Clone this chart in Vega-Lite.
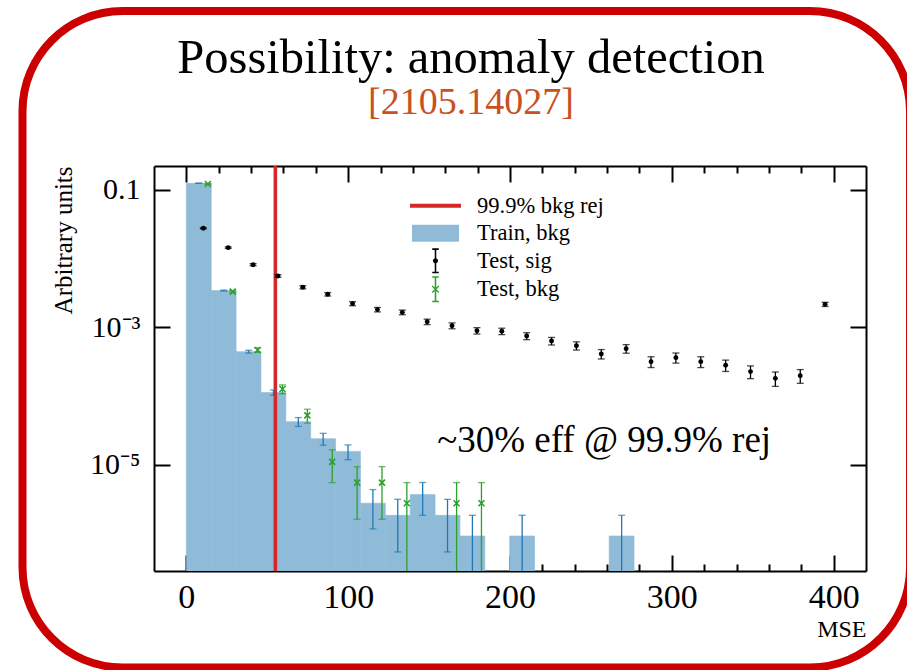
{
  "$schema": "https://vega.github.io/schema/vega-lite/v6.json",
  "width": 712,
  "height": 405,
  "autosize": {"type": "none"},
  "padding": {"left": 154, "top": 166, "right": 41, "bottom": 99},
  "background": "white",
  "config": {
    "view": {"stroke": null},
    "font": "Liberation Serif",
    "axis": {
      "domainColor": "black", "domainWidth": 2, "tickColor": "black", "tickWidth": 2,
      "labelColor": "black", "titleColor": "black", "grid": false, "zindex": 1,
      "labelFont": "Liberation Serif", "titleFont": "Liberation Serif", "titleFontWeight": "normal"
    }
  },
  "title": {
    "text": "Possibility: anomaly detection",
    "subtitle": "[2105.14027]",
    "anchor": "middle", "frame": "group", "dx": -39, "offset": -116,
    "font": "Liberation Serif", "fontSize": 48.5, "fontWeight": "normal", "color": "black",
    "subtitleFont": "Liberation Serif", "subtitleFontSize": 38, "subtitleColor": "#c8511f", "subtitlePadding": 0
  },
  "datasets": {
    "hist": [
      {"s": "Train, bkg", "b0": 0, "b1": 15.37, "xc": 7.69, "v": 0.125, "lo": 0.1247, "hi": 0.1253},
      {"s": "Train, bkg", "b0": 15.37, "b1": 30.74, "xc": 23.06, "v": 0.00344, "lo": 0.003384, "hi": 0.003496},
      {"s": "Train, bkg", "b0": 30.74, "b1": 46.11, "xc": 38.43, "v": 0.000445, "lo": 0.0004247, "hi": 0.0004653},
      {"s": "Train, bkg", "b0": 46.11, "b1": 61.48, "xc": 53.8, "v": 0.0001131, "lo": 0.0001029, "hi": 0.0001233},
      {"s": "Train, bkg", "b0": 61.48, "b1": 76.85, "xc": 69.17, "v": 0.00004264, "lo": 0.00003635, "hi": 0.00004893},
      {"s": "Train, bkg", "b0": 76.85, "b1": 92.22, "xc": 84.54, "v": 0.0000241, "lo": 0.00001937, "hi": 0.00002883},
      {"s": "Train, bkg", "b0": 92.22, "b1": 107.59, "xc": 99.91, "v": 0.00001576, "lo": 0.00001194, "hi": 0.00001958},
      {"s": "Train, bkg", "b0": 107.59, "b1": 122.96, "xc": 115.28, "v": 0.000002781, "lo": 0.000001175, "hi": 0.000004387},
      {"s": "Train, bkg", "b0": 122.96, "b1": 138.33, "xc": 130.65, "v": 0.000001854, "lo": 0.000000543, "hi": 0.000003165},
      {"s": "Train, bkg", "b0": 138.33, "b1": 153.7, "xc": 146.02, "v": 0.000003708, "lo": 0.000001854, "hi": 0.000005562},
      {"s": "Train, bkg", "b0": 153.7, "b1": 169.07, "xc": 161.39, "v": 0.000001854, "lo": 0.000000543, "hi": 0.000003165},
      {"s": "Train, bkg", "b0": 169.07, "b1": 184.44, "xc": 176.76, "v": 0.000000927, "lo": 0.000000001, "hi": 0.000001854},
      {"s": "Train, bkg", "b0": 199.81, "b1": 215.18, "xc": 207.5, "v": 0.000000927, "lo": 0.000000001, "hi": 0.000001854},
      {"s": "Train, bkg", "b0": 261.29, "b1": 276.66, "xc": 268.98, "v": 0.000000927, "lo": 0.000000001, "hi": 0.000001854},
      {"s": "Test, sig", "xc": 10.49, "v": 0.02772, "lo": 0.02719, "hi": 0.02825},
      {"s": "Test, sig", "xc": 25.86, "v": 0.01449, "lo": 0.01411, "hi": 0.01487},
      {"s": "Test, sig", "xc": 41.23, "v": 0.00818, "lo": 0.00789, "hi": 0.00847},
      {"s": "Test, sig", "xc": 56.6, "v": 0.00561, "lo": 0.00537, "hi": 0.00585},
      {"s": "Test, sig", "xc": 71.97, "v": 0.00385, "lo": 0.00365, "hi": 0.00405},
      {"s": "Test, sig", "xc": 87.34, "v": 0.00304, "lo": 0.002865, "hi": 0.003215},
      {"s": "Test, sig", "xc": 102.71, "v": 0.00222, "lo": 0.00207, "hi": 0.00237},
      {"s": "Test, sig", "xc": 118.08, "v": 0.00182, "lo": 0.001684, "hi": 0.001956},
      {"s": "Test, sig", "xc": 133.45, "v": 0.00166, "lo": 0.001531, "hi": 0.001789},
      {"s": "Test, sig", "xc": 148.82, "v": 0.00121, "lo": 0.0011, "hi": 0.00132},
      {"s": "Test, sig", "xc": 164.19, "v": 0.00106, "lo": 0.000957, "hi": 0.001164},
      {"s": "Test, sig", "xc": 179.56, "v": 0.000898, "lo": 0.000803, "hi": 0.000993},
      {"s": "Test, sig", "xc": 194.93, "v": 0.000881, "lo": 0.000787, "hi": 0.000975},
      {"s": "Test, sig", "xc": 210.3, "v": 0.000752, "lo": 0.000665, "hi": 0.000839},
      {"s": "Test, sig", "xc": 225.67, "v": 0.000636, "lo": 0.000556, "hi": 0.000716},
      {"s": "Test, sig", "xc": 241.04, "v": 0.000543, "lo": 0.000469, "hi": 0.000617},
      {"s": "Test, sig", "xc": 256.41, "v": 0.000412, "lo": 0.000348, "hi": 0.000477},
      {"s": "Test, sig", "xc": 271.78, "v": 0.000492, "lo": 0.000422, "hi": 0.000563},
      {"s": "Test, sig", "xc": 287.15, "v": 0.000318, "lo": 0.000261, "hi": 0.000375},
      {"s": "Test, sig", "xc": 302.52, "v": 0.000364, "lo": 0.000303, "hi": 0.000425},
      {"s": "Test, sig", "xc": 317.89, "v": 0.000318, "lo": 0.000261, "hi": 0.000375},
      {"s": "Test, sig", "xc": 333.26, "v": 0.000282, "lo": 0.000229, "hi": 0.000335},
      {"s": "Test, sig", "xc": 348.63, "v": 0.000228, "lo": 0.00018, "hi": 0.000276},
      {"s": "Test, sig", "xc": 364.0, "v": 0.000182, "lo": 0.000139, "hi": 0.000225},
      {"s": "Test, sig", "xc": 379.37, "v": 0.000199, "lo": 0.000154, "hi": 0.000244},
      {"s": "Test, sig", "xc": 394.74, "v": 0.00217, "lo": 0.00202, "hi": 0.00232},
      {"s": "Test, bkg", "xc": 13.29, "v": 0.122, "lo": 0.1214, "hi": 0.1226},
      {"s": "Test, bkg", "xc": 28.66, "v": 0.00332, "lo": 0.003224, "hi": 0.003416},
      {"s": "Test, bkg", "xc": 44.03, "v": 0.000471, "lo": 0.0004349, "hi": 0.0005071},
      {"s": "Test, bkg", "xc": 59.4, "v": 0.0001274, "lo": 0.0001086, "hi": 0.0001462},
      {"s": "Test, bkg", "xc": 74.77, "v": 0.00005263, "lo": 0.00004056, "hi": 0.0000647},
      {"s": "Test, bkg", "xc": 90.14, "v": 0.00001108, "lo": 0.00000554, "hi": 0.00001662},
      {"s": "Test, bkg", "xc": 105.51, "v": 0.00000554, "lo": 0.000001623, "hi": 0.000009457},
      {"s": "Test, bkg", "xc": 120.88, "v": 0.00000554, "lo": 0.000001623, "hi": 0.000009457},
      {"s": "Test, bkg", "xc": 136.25, "v": 0.00000277, "lo": 0.000000001, "hi": 0.00000554},
      {"s": "Test, bkg", "xc": 166.99, "v": 0.00000277, "lo": 0.000000001, "hi": 0.00000554},
      {"s": "Test, bkg", "xc": 182.36, "v": 0.00000277, "lo": 0.000000001, "hi": 0.00000554}
    ],
    "cut": [{"mse": 55}]
  },
  "resolve": {"axis": {"x": "independent", "y": "independent"}},
  "layer": [
    {
      "data": {"values": [{}]},
      "mark": {"type": "rect", "clip": false, "filled": false, "stroke": "#cc0000", "strokeWidth": 8, "cornerRadius": 100},
      "encoding": {
        "x": {"datum": -101.26, "type": "quantitative", "scale": {"domain": [-20, 420], "nice": false, "zero": false}, "axis": null},
        "x2": {"datum": 447.2},
        "y": {"datum": 40.06, "type": "quantitative", "scale": {"type": "log", "domain": [2.87e-7, 0.223], "nice": false}, "axis": null},
        "y2": {"datum": 1.1334e-8}
      }
    },
    {
      "data": {"name": "hist"},
      "transform": [{"filter": "datum.s === 'Train, bkg'"}],
      "mark": {"type": "rect", "clip": true, "fill": "#8fbbd9", "stroke": "#8fbbd9", "strokeWidth": 0.6},
      "encoding": {
        "x": {"field": "b0", "type": "quantitative", "axis": {
          "orient": "bottom", "values": [0, 100, 200, 300, 400], "tickSize": -16, "labelFontSize": 34,
          "labelPadding": 25, "labelFlush": false, "format": "d", "domain": true,
          "title": "MSE", "titleFontSize": 24, "titleAnchor": "end", "titlePadding": 3}},
        "x2": {"field": "b1"},
        "y": {"field": "v", "type": "quantitative", "axis": {
          "orient": "left", "values": [0.1, 0.001, 0.00001], "tickSize": -16, "labelFontSize": 30,
          "labelPadding": 30, "labelFlush": false, "domain": true,
          "labelExpr": "datum.value > 0.01 ? '0.1' : (datum.value > 0.0001 ? '10⁻³' : '10⁻⁵')",
          "title": "Arbitrary units", "titleFontSize": 25, "titleAnchor": "end", "titlePadding": 13}},
        "y2": {"datum": 1e-9}
      }
    },
    {
      "data": {"name": "cut"},
      "mark": {"type": "rule", "color": "#d62728", "strokeWidth": 3.6},
      "encoding": {
        "x": {"field": "mse", "type": "quantitative", "axis": {
          "orient": "bottom", "values": [20, 40, 60, 80, 120, 140, 160, 180, 220, 240, 260, 280, 320, 340, 360, 380],
          "tickSize": -7, "labels": false, "domain": false, "title": null}}
      }
    },
    {
      "data": {"name": "hist"},
      "transform": [{"filter": "datum.s === 'Train, bkg'"}],
      "mark": {"type": "rule", "color": "#1f77b4", "strokeWidth": 1.3, "clip": true},
      "encoding": {
        "x": {"field": "xc", "type": "quantitative", "axis": {
          "orient": "top", "values": [0, 100, 200, 300, 400], "tickSize": -16, "labels": false, "domain": true, "title": null}},
        "y": {"field": "lo", "type": "quantitative", "axis": {
          "orient": "right", "values": [0.1, 0.001, 0.00001], "tickSize": -16, "labels": false, "domain": true, "title": null}},
        "y2": {"field": "hi"}
      }
    },
    {
      "data": {"name": "hist"},
      "transform": [{"filter": "datum.s === 'Train, bkg'"}],
      "mark": {"type": "tick", "orient": "horizontal", "color": "#1f77b4", "size": 7, "thickness": 1.3, "clip": true},
      "encoding": {
        "x": {"field": "xc", "type": "quantitative", "axis": null},
        "y": {"field": "hi", "type": "quantitative", "axis": null}
      }
    },
    {
      "data": {"name": "hist"},
      "transform": [{"filter": "datum.s === 'Train, bkg'"}],
      "mark": {"type": "tick", "orient": "horizontal", "color": "#1f77b4", "size": 7, "thickness": 1.3, "clip": true},
      "encoding": {
        "x": {"field": "xc", "type": "quantitative", "axis": null},
        "y": {"field": "lo", "type": "quantitative", "axis": null}
      }
    },
    {
      "data": {"name": "hist"},
      "transform": [{"filter": "datum.s === 'Test, sig'"}],
      "mark": {"type": "rule", "color": "black", "strokeWidth": 1.3, "clip": true},
      "encoding": {
        "x": {"field": "xc", "type": "quantitative", "axis": {
          "orient": "top", "values": [20, 40, 60, 80, 120, 140, 160, 180, 220, 240, 260, 280, 320, 340, 360, 380],
          "tickSize": -7, "labels": false, "domain": false, "title": null}},
        "y": {"field": "lo", "type": "quantitative", "axis": null},
        "y2": {"field": "hi"}
      }
    },
    {
      "data": {"name": "hist"},
      "transform": [{"filter": "datum.s === 'Test, sig'"}],
      "mark": {"type": "tick", "orient": "horizontal", "color": "black", "size": 7, "thickness": 1.3, "clip": true},
      "encoding": {
        "x": {"field": "xc", "type": "quantitative", "axis": null},
        "y": {"field": "hi", "type": "quantitative", "axis": null}
      }
    },
    {
      "data": {"name": "hist"},
      "transform": [{"filter": "datum.s === 'Test, sig'"}],
      "mark": {"type": "tick", "orient": "horizontal", "color": "black", "size": 7, "thickness": 1.3, "clip": true},
      "encoding": {
        "x": {"field": "xc", "type": "quantitative", "axis": null},
        "y": {"field": "lo", "type": "quantitative", "axis": null}
      }
    },
    {
      "data": {"name": "hist"},
      "transform": [{"filter": "datum.s === 'Test, sig'"}],
      "mark": {"type": "point", "filled": true, "shape": "circle", "color": "black", "size": 24, "opacity": 1},
      "encoding": {
        "x": {"field": "xc", "type": "quantitative", "axis": null},
        "y": {"field": "v", "type": "quantitative", "axis": null}
      }
    },
    {
      "data": {"name": "hist"},
      "transform": [{"filter": "datum.s === 'Test, bkg'"}],
      "mark": {"type": "rule", "color": "#2ca02c", "strokeWidth": 1.3, "clip": true},
      "encoding": {
        "x": {"field": "xc", "type": "quantitative", "axis": null},
        "y": {"field": "lo", "type": "quantitative", "axis": null},
        "y2": {"field": "hi"}
      }
    },
    {
      "data": {"name": "hist"},
      "transform": [{"filter": "datum.s === 'Test, bkg'"}],
      "mark": {"type": "tick", "orient": "horizontal", "color": "#2ca02c", "size": 7, "thickness": 1.3, "clip": true},
      "encoding": {
        "x": {"field": "xc", "type": "quantitative", "axis": null},
        "y": {"field": "hi", "type": "quantitative", "axis": null}
      }
    },
    {
      "data": {"name": "hist"},
      "transform": [{"filter": "datum.s === 'Test, bkg'"}],
      "mark": {"type": "tick", "orient": "horizontal", "color": "#2ca02c", "size": 7, "thickness": 1.3, "clip": true},
      "encoding": {
        "x": {"field": "xc", "type": "quantitative", "axis": null},
        "y": {"field": "lo", "type": "quantitative", "axis": null}
      }
    },
    {
      "data": {"name": "hist"},
      "transform": [{"filter": "datum.s === 'Test, bkg'"}],
      "mark": {"type": "point", "filled": false, "shape": "M-1,-1L1,1M1,-1L-1,1", "color": "#2ca02c", "size": 36, "strokeWidth": 1.6, "opacity": 1},
      "encoding": {
        "x": {"field": "xc", "type": "quantitative", "axis": null},
        "y": {"field": "v", "type": "quantitative", "axis": null}
      }
    },
    {
      "data": {"name": "hist"},
      "mark": {"type": "point", "filled": true, "opacity": 0},
      "encoding": {
        "x": {"field": "xc", "type": "quantitative", "axis": null},
        "y": {"field": "v", "type": "quantitative", "axis": null},
        "color": {"field": "s", "type": "nominal",
          "scale": {"domain": ["99.9% bkg rej", "Train, bkg", "Test, sig", "Test, bkg"], "range": ["#d62728", "#8fbbd9", "black", "#2ca02c"]},
          "legend": {"title": null, "orient": "none", "legendX": 268.5, "legendY": 26.8, "symbolSize": 676, "symbolOpacity": 1,
            "symbolStrokeWidth": 0, "labelFont": "Liberation Serif", "labelFontSize": 22.5, "labelOffset": 28.5,
            "rowPadding": 2.5, "padding": 0, "labelColor": "black", "labelLimit": 0}},
        "shape": {"field": "s", "type": "nominal",
          "scale": {"domain": ["99.9% bkg rej", "Train, bkg", "Test, sig", "Test, bkg"], "range": [
            "M-1.96,-0.15H1.96V0.15H-1.96Z",
            "M-1.81,-0.65H1.81V0.65H-1.81Z",
            "M-0.06,-0.9H0.06V0.9H-0.06Z M-0.25,-0.96H0.25V-0.84H-0.25Z M-0.25,0.84H0.25V0.96H-0.25Z M0.2,0A0.2,0.2 0 1,1 -0.2,0A0.2,0.2 0 1,1 0.2,0Z",
            "M-0.06,-0.95H0.06V0.95H-0.06Z M-0.25,-1H0.25V-0.88H-0.25Z M-0.25,0.88H0.25V1H-0.25Z M-0.215,-0.285L0.285,0.215L0.215,0.285L-0.285,-0.215Z M0.215,-0.285L0.285,-0.215L-0.215,0.285L-0.285,0.215Z"
          ]},
          "legend": {"title": null, "orient": "none", "legendX": 268.5, "legendY": 26.8, "symbolSize": 676, "symbolOpacity": 1,
            "symbolStrokeWidth": 0, "labelFont": "Liberation Serif", "labelFontSize": 22.5, "labelOffset": 28.5,
            "rowPadding": 2.5, "padding": 0, "labelColor": "black", "labelLimit": 0}}
      }
    },
    {
      "data": {"values": [{}]},
      "mark": {"type": "text", "text": "~30% eff @ 99.9% rej", "align": "left", "baseline": "alphabetic", "font": "Liberation Serif", "fontSize": 37, "color": "black"},
      "encoding": {
        "x": {"datum": 155, "type": "quantitative", "axis": null},
        "y": {"datum": 1.545e-5, "type": "quantitative", "axis": null}
      }
    }
  ]
}
